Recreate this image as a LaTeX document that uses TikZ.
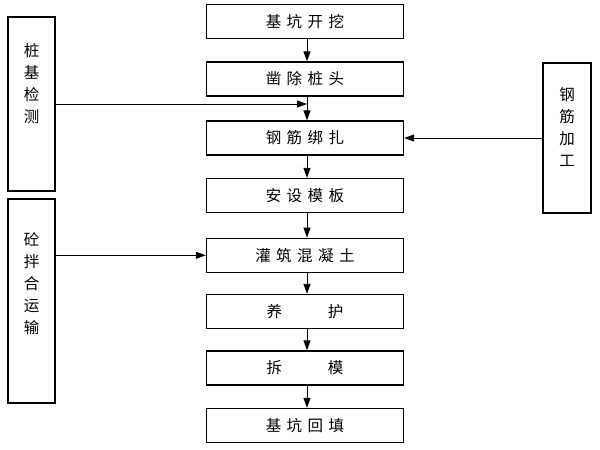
\documentclass[tikz,border=0pt]{standalone}
\usepackage{fontspec}
\newfontfamily\cjk{Noto Sans CJK SC}
\usetikzlibrary{arrows.meta}
\tikzset{
  mainbox/.style={draw, line width=1.4pt, minimum width=197pt, minimum height=34pt, inner sep=0pt,
    font=\cjk\fontsize{15.5}{18}\selectfont},
  sidebox/.style={draw, line width=1.4pt, inner sep=0pt},
  vtext/.style={align=center, inner sep=0pt, font=\cjk\fontsize{15.5}{22}\selectfont},
  conn/.style={line width=0.9pt, -{Triangle[length=10pt,width=7pt]}}
}
\newcommand{\gp}{\hspace{5.5pt}}
\begin{document}
\begin{tikzpicture}[x=1pt,y=-1pt]
\useasboundingbox (0,0) rectangle (600,450);
% main column
\node[mainbox] (b1) at (305,21.5) {基\gp 坑\gp 开\gp 挖};
\node[mainbox] (b2) at (305,79) {凿\gp 除\gp 桩\gp 头};
\node[mainbox] (b3) at (305,138) {钢\gp 筋\gp 绑\gp 扎};
\node[mainbox] (b4) at (305,195.5) {安\gp 设\gp 模\gp 板};
\node[mainbox] (b5) at (305,255.3) {灌\gp 筑\gp 混\gp 凝\gp 土};
\node[mainbox] (b6) at (305,311.5) {养\hspace{46pt}护};
\node[mainbox] (b7) at (305,368) {拆\hspace{46pt}模};
\node[mainbox] (b8) at (305,425.5) {基\gp 坑\gp 回\gp 填};
% side boxes
\node[sidebox, minimum width=47pt, minimum height=174pt] (l1) at (31.5,104) {};
\node[vtext] (l1t) at (31.5,84) {桩\\基\\检\\测};
\node[sidebox, minimum width=47pt, minimum height=204pt] (l2) at (31.5,301) {};
\node[vtext] (l2t) at (31.5,284) {砼\\拌\\合\\运\\输};
\node[sidebox, minimum width=48pt, minimum height=150pt] (r1) at (567,138) {};
\node[vtext] (r1t) at (567,127) {钢\\筋\\加\\工};
% connectors
\foreach \a/\b in {b1/b2,b2/b3,b3/b4,b4/b5,b5/b6,b6/b7,b7/b8}
  \draw[conn] ([xshift=2pt]\a.south) -- ([xshift=2pt]\b.north);
\coordinate (j1) at ([xshift=2pt]b2.south |- l1.east);
\draw[conn] (l1.east) -- (j1);
\draw[conn] (l2.east |- b5.west) -- (b5.west);
\draw[conn] (r1.west |- b3.east) -- (b3.east);
\end{tikzpicture}
\end{document}
